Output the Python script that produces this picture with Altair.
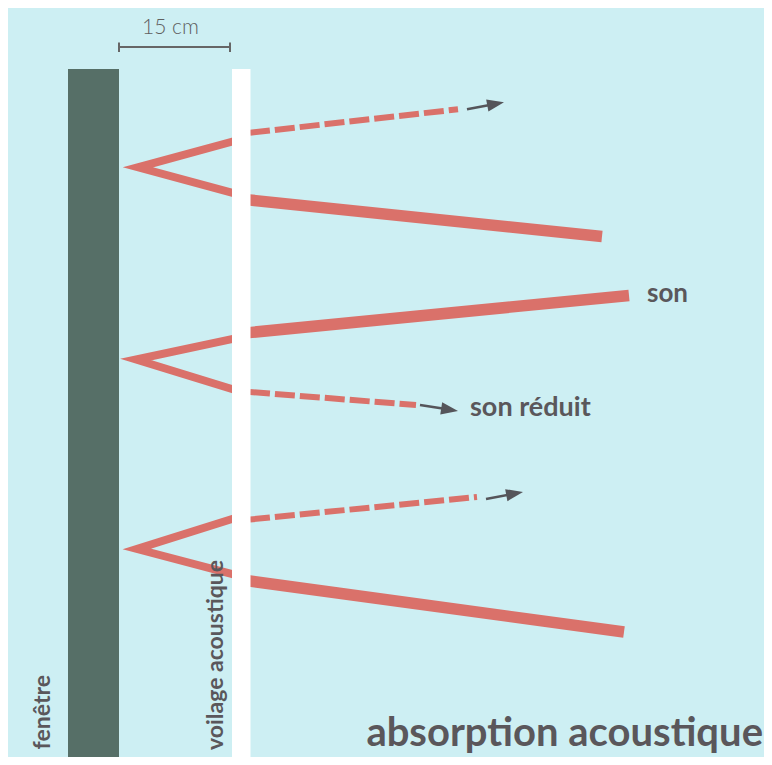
import altair as alt
import pandas as pd
import numpy as np

BG = "#cdeff3"
RED = "#da716a"
GREEN = "#566f67"
GREY = "#5a575b"
FONT = "Lato"

# walls (window pane and acoustic voile)
wall_names = ["fenêtre", "voilage"]
wall_x0 = [68, 232]
wall_x1 = [119, 250.5]
wall_y0 = [69, 69]
wall_y1 = [765, 765]

# thin V of each ray (incoming -> window -> back to voile)
v_ray = [1, 1, 1, 2, 2, 2, 3, 3, 3]
v_x = [240, 138, 240, 240, 136, 240, 240, 137, 240]
v_y = [139.5, 167.3, 194.9, 337.3, 359.5, 391.5, 516.5, 549, 576.1]
v_order = [0, 1, 2, 0, 1, 2, 0, 1, 2]

# full sound beyond the voile (thick)
thick_x0 = [246, 246, 246]
thick_y0 = [199.6, 332.9, 580.5]
thick_x1 = [602, 629, 624]
thick_y1 = [236.5, 295.5, 632]

# reduced sound beyond the voile (dashed)
dash_x0 = [250, 250, 250]
dash_y0 = [132.7, 392, 519.5]
dash_x1 = [458, 416, 477]
dash_y1 = [109.3, 405, 497]

# arrows: start -> tip
arr_x0 = [467, 420, 486]
arr_y0 = [109.3, 405, 499]
arr_x1 = [504, 458, 523]
arr_y1 = [102.3, 411, 492]

# scale bar
bar_x0 = [119, 119, 230]
bar_y0 = [47, 42.5, 42.5]
bar_x1 = [230, 119, 230]
bar_y1 = [47, 52, 52]

# labels
lab_text = ["15 cm", "son", "son réduit", "fenêtre", "voilage acoustique", "absorption acoustique"]
lab_x = [170.5, 647, 470, 50, 223, 763]
lab_y = [34, 302, 416, 675, 560, 746]
lab_size = [21, 26, 27, 23, 23, 40]
lab_angle = [0, 0, 0, 270, 270, 0]
lab_align = ["center", "left", "left", "right", "right", "right"]
lab_weight = [300, "bold", "bold", "bold", "bold", "bold"]
lab_color = ["#606060", GREY, GREY, GREY, GREY, GREY]

W, H = 756, 749
xs = alt.Scale(domain=[8, 8 + W], range=[0, W])
ys = alt.Scale(domain=[8, 8 + H], reverse=True)


def X(f):
    return alt.X(f, type="quantitative", scale=xs, axis=None)


def Y(f):
    return alt.Y(f, type="quantitative", scale=ys, axis=None)


walls = pd.DataFrame(dict(name=wall_names, x0=wall_x0, x1=wall_x1, y0=wall_y0, y1=wall_y1))
vdf = pd.DataFrame(dict(ray=v_ray, x=v_x, y=v_y, o=v_order))
thick = pd.DataFrame(dict(x0=thick_x0, y0=thick_y0, x1=thick_x1, y1=thick_y1))
dash = pd.DataFrame(dict(x0=dash_x0, y0=dash_y0, x1=dash_x1, y1=dash_y1))

ax0, ay0, ax1, ay1 = map(np.array, (arr_x0, arr_y0, arr_x1, arr_y1))
dx, dy = ax1 - ax0, ay1 - ay0
ln = np.hypot(dx, dy)
ang = (np.degrees(np.arctan2(dy, dx)) + 360) % 360
shaft = pd.DataFrame(dict(x0=ax0, y0=ay0, x1=ax1 - dx / ln * 9, y1=ay1 - dy / ln * 9))
heads = pd.DataFrame(dict(x=ax1, y=ay1, a=ang))
bar = pd.DataFrame(dict(x0=bar_x0, y0=bar_y0, x1=bar_x1, y1=bar_y1))

window = alt.Chart(walls.iloc[[0]]).mark_rect(color=GREEN, clip=True).encode(
    x=X("x0"), x2="x1", y=Y("y0"), y2="y1")
voile = alt.Chart(walls.iloc[[1]]).mark_rect(color="#ffffff", clip=True).encode(
    x=X("x0"), x2="x1", y=Y("y0"), y2="y1")

vlines = alt.Chart(vdf).mark_line(
    color=RED, strokeWidth=8, strokeJoin="miter", strokeMiterLimit=10, strokeCap="butt"
).encode(x=X("x"), y=Y("y"), detail="ray:N", order="o:Q")

thick_l = alt.Chart(thick).mark_rule(color=RED, strokeWidth=11.5, strokeCap="butt").encode(
    x=X("x0"), y=Y("y0"), x2="x1", y2="y1")
dash_l = alt.Chart(dash).mark_rule(color=RED, strokeWidth=6, strokeDash=[20, 5], strokeCap="butt").encode(
    x=X("x0"), y=Y("y0"), x2="x1", y2="y1")

shaft_l = alt.Chart(shaft).mark_rule(color="#55555a", strokeWidth=2.5).encode(
    x=X("x0"), y=Y("y0"), x2="x1", y2="y1")
head_l = alt.Chart(heads).mark_point(
    shape="M0,0L-2,-0.72L-2,0.72Z", filled=True, size=289, color="#55555a", opacity=1
).encode(x=X("x"), y=Y("y"), angle=alt.Angle("a:Q", scale=None))

bar_l = alt.Chart(bar).mark_rule(color="#666666", strokeWidth=2).encode(
    x=X("x0"), y=Y("y0"), x2="x1", y2="y1")

labels = []
for i in range(len(lab_text)):
    d = pd.DataFrame(dict(t=[lab_text[i]], x=[lab_x[i]], y=[lab_y[i]]))
    labels.append(
        alt.Chart(d).mark_text(
            font=FONT, fontSize=lab_size[i], fontWeight=lab_weight[i], color=lab_color[i],
            align=lab_align[i], baseline="alphabetic", angle=lab_angle[i]
        ).encode(x=X("x"), y=Y("y"), text="t:N")
    )

chart = alt.layer(
    window, vlines, thick_l, dash_l, voile, shaft_l, head_l, bar_l, *labels
).properties(
    width=W, height=H, padding=0, autosize="none", background=BG
).configure_view(stroke=None)

chart.save("out.html", embed_options={"renderer": "svg", "actions": False})
